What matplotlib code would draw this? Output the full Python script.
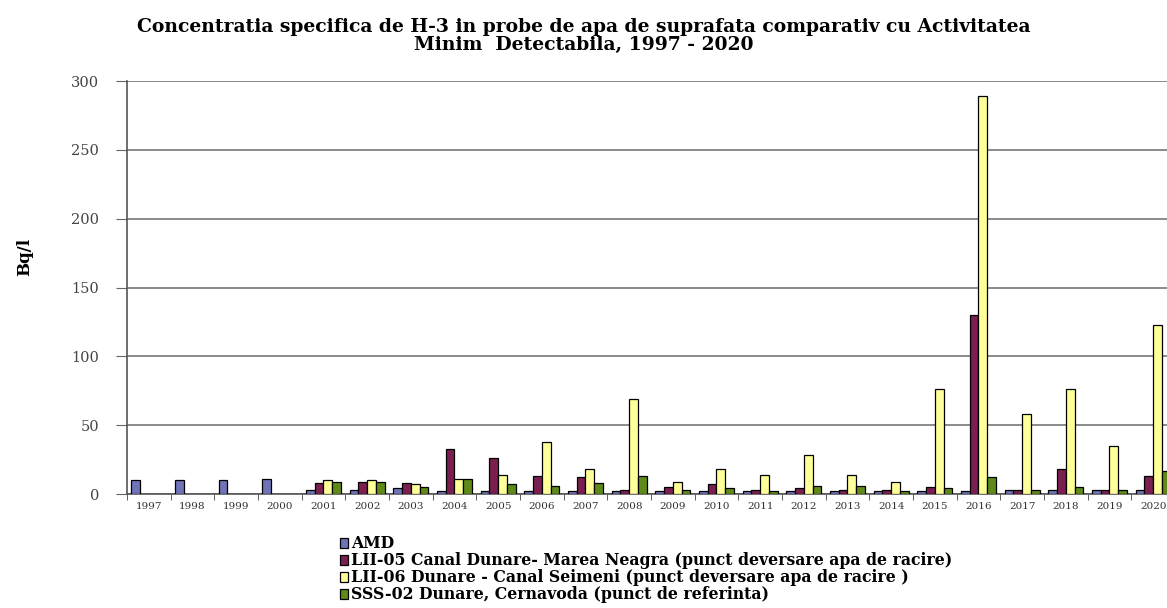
import matplotlib
matplotlib.use("Agg")
import matplotlib.pyplot as plt
import numpy as np

years = [str(y) for y in range(1997, 2021)]
amd = [10, 10, 10, 11, 3, 3, 4, 2, 2, 2, 2, 2, 2, 2, 2, 2, 2, 2, 2, 2, 3, 3, 3, 3]
lii05 = [0, 0, 0, 0, 8, 9, 8, 33, 26, 13, 12, 3, 5, 7, 3, 4, 3, 3, 5, 130, 3, 18, 3, 13]
lii06 = [0, 0, 0, 0, 10, 10, 7, 11, 14, 38, 18, 69, 9, 18, 14, 28, 14, 9, 76, 289, 58, 76, 35, 123]
sss02 = [0, 0, 0, 0, 9, 9, 5, 11, 7, 6, 8, 13, 3, 4, 2, 6, 6, 2, 4, 12, 3, 5, 3, 17]

labels = ["AMD",
          "LII-05 Canal Dunare- Marea Neagra (punct deversare apa de racire)",
          "LII-06 Dunare - Canal Seimeni (punct deversare apa de racire )",
          "SSS-02 Dunare, Cernavoda (punct de referinta)"]
colors = ["#6f73b8", "#7a1f4f", "#ffff99", "#5f8a1a"]
yticks = [0, 50, 100, 150, 200, 250, 300]

plt.rcParams['font.family'] = ['DejaVu Serif', 'Liberation Serif']

fig = plt.figure(figsize=(11.67, 6.08), dpi=100)
ax = fig.add_axes([0.1088, 0.1875, 0.898, 0.679])

x = np.arange(len(years))
w = 0.2
series = [amd, lii05, lii06, sss02]
handles = []
for i, (vals, c, lab) in enumerate(zip(series, colors, labels)):
    v = np.array(vals, dtype=float)
    v[v == 0] = np.nan
    b = ax.bar(x + (i - 1.5) * w, v, w, color=c, edgecolor="black", linewidth=0.9, label=lab, zorder=3)
    handles.append(b)

ax.set_xlim(-0.5, len(years) - 0.5)
ax.set_ylim(0, 300)
ax.set_yticks(yticks)
ax.set_yticklabels([str(t) for t in yticks], fontsize=10.5, color='#444444')
ax.set_xticks(x)
ax.set_xticklabels(years, fontsize=7.5, color='#333333')
ax.set_xticks(np.arange(-0.5, len(years), 1), minor=True)
ax.tick_params(axis='x', which='major', length=0, pad=6)
ax.tick_params(axis='x', which='minor', length=4, direction='out', color='#444444')
ax.tick_params(axis='y', length=8, direction='out', color='#666666', pad=12)
ax.yaxis.grid(True, color='#777777', linewidth=1.2, zorder=0)
ax.set_axisbelow(True)
for s in ['top', 'right']:
    ax.spines[s].set_visible(False)
ax.spines['left'].set_color('#555555')
ax.spines['bottom'].set_color('#555555')
ax.spines['left'].set_linewidth(1.2)
ax.spines['bottom'].set_linewidth(1.2)

fig.text(0.0214, 0.577, "Bq/l", rotation=90, ha='center', va='center', fontsize=12, fontweight='bold')

fig.text(0.5, 0.941, "Concentratia specifica de H-3 in probe de apa de suprafata comparativ cu Activitatea\nMinim  Detectabila, 1997 - 2020",
         ha='center', va='center', fontsize=13.5, fontweight='bold', linespacing=1.0)

leg = fig.legend(handles=handles, labels=labels, loc='lower left', bbox_to_anchor=(0.283, -0.008),
                 frameon=False, fontsize=11.3, handlelength=0.55, handleheight=0.55, handletextpad=0.15,
                 labelspacing=0.0, borderaxespad=0.2)
for t in leg.get_texts():
    t.set_fontweight('bold')

fig.savefig("out.png", dpi=100)
